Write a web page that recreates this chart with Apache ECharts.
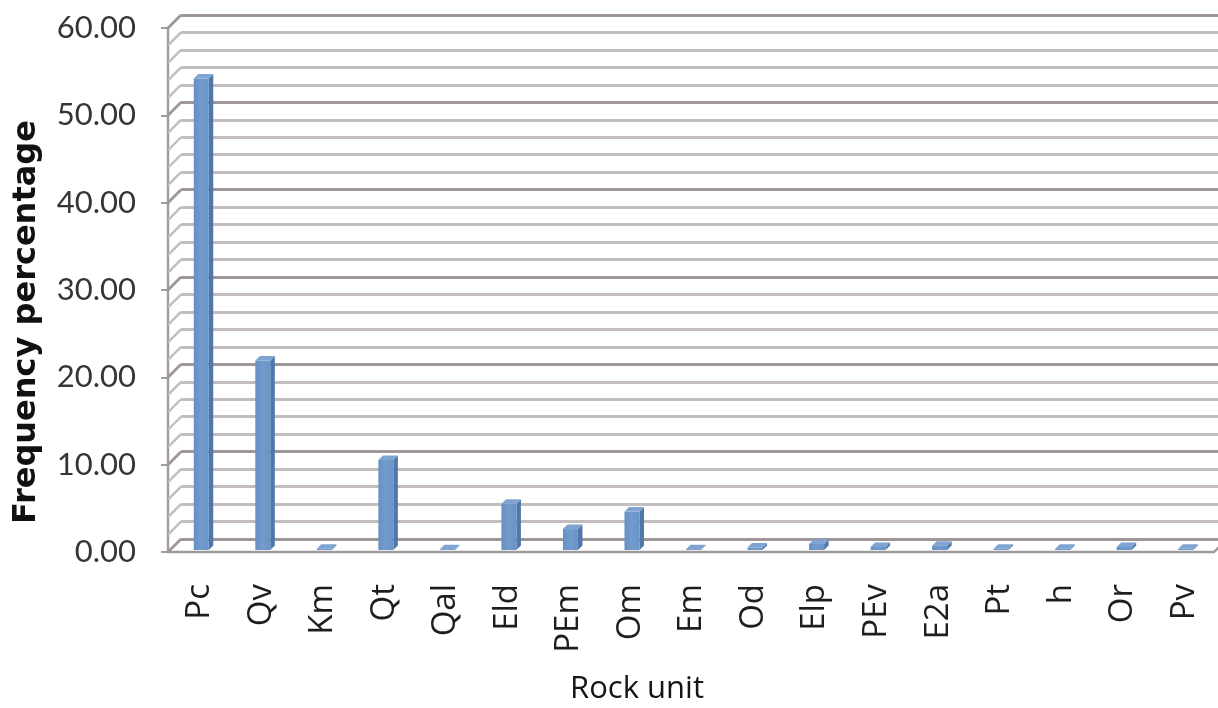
<!DOCTYPE html>
<html>
<head>
<meta charset="utf-8">
<script src="https://cdn.jsdelivr.net/npm/echarts@6/dist/echarts.min.js"></script>
<style>
  html, body { margin: 0; padding: 0; background: #ffffff; }
  #chart { width: 1218px; height: 708px; }
</style>
</head>
<body>
<div id="chart"></div>
<script>
// Rock units and their frequency (%)
const categories = ['Pc', 'Qv', 'Km', 'Qt', 'Qal', 'Eld', 'PEm', 'Om', 'Em', 'Od', 'Elp', 'PEv', 'E2a', 'Pt', 'h', 'Or', 'Pv'];
const frequency = [54.0, 21.7, 0.15, 10.3, 0.1, 5.3, 2.4, 4.4, 0.1, 0.3, 0.7, 0.35, 0.5, 0.15, 0.15, 0.35, 0.15];

// Value axis ticks and their printed labels
const yTicks = [0, 10, 20, 30, 40, 50, 60];
const yTickLabels = ['0.00', '10.00', '20.00', '30.00', '40.00', '50.00', '60.00'];

// Gridline levels on the back and side walls
const wallLines = [0, 2, 4, 6, 8, 10, 12, 14, 16, 18, 20, 22, 24, 26, 28, 30,
                   32, 34, 36, 38, 40, 42, 44, 46, 48, 50, 52, 54, 56, 58, 60];

const DEPTH = 13;             // oblique depth of the box (px)
const MAJOR = '#9f9797';
const MINOR = '#c4bdbd';
const AXIS = '#a09a9a';

const chart = echarts.init(document.getElementById('chart'), null, { renderer: 'canvas' });

// Side wall: a slanted segment joining the front axis to each back-wall gridline
function renderWallLink(params, api) {
  const cs = params.coordSys;
  const v = api.value(1);
  const y = api.coord([0, v])[1];
  const major = v % 10 === 0;
  return {
    type: 'line',
    shape: { x1: cs.x, y1: y, x2: cs.x + DEPTH, y2: y - DEPTH },
    style: { stroke: major ? MAJOR : MINOR, lineWidth: major ? 2.8 : 2.4 }
  };
}

// Right end of the floor
function renderFloorEdge(params, api) {
  const cs = params.coordSys;
  const y = api.coord([0, 0])[1];
  const x = cs.x + cs.width;
  return {
    type: 'line',
    shape: { x1: x, y1: y, x2: x + DEPTH, y2: y - DEPTH },
    style: { stroke: AXIS, lineWidth: 2.4 }
  };
}

// Category names, written upward below the floor
function renderCategoryLabel(params, api) {
  const i = api.value(0);
  const p = api.coord([i, 0]);
  return {
    type: 'text',
    x: p[0] + 1,
    y: p[1] + 32,
    rotation: Math.PI / 2,
    style: {
      text: categories[i],
      font: '33px "Open Sans", sans-serif',
      fill: '#1e1e1e',
      align: 'right',
      verticalAlign: 'middle'
    }
  };
}

// 3D column: front face, right side face and top face
function renderColumn(params, api) {
  const i = api.value(0);
  const v = api.value(1);
  const base = api.coord([i, 0]);
  const top = api.coord([i, v]);
  const w = 15, d = 4.5, lift = 2, shift = 2.5;
  const x0 = base[0] - w / 2 + shift;
  const x1 = x0 + w;
  const yb = base[1] - lift;
  const yt = top[1] - lift;
  return {
    type: 'group',
    children: [
      {
        type: 'polygon',
        shape: { points: [[x1, yb], [x1, yt], [x1 + d, yt - d], [x1 + d, yb - d]] },
        style: { fill: '#4f77a9' }
      },
      {
        type: 'rect',
        shape: { x: x0, y: yt, width: w, height: Math.max(yb - yt, 0.5) },
        style: {
          fill: new echarts.graphic.LinearGradient(0, 0, 1, 0, [
            { offset: 0, color: '#6690c4' },
            { offset: 0.5, color: '#739bcc' },
            { offset: 1, color: '#6a93c6' }
          ])
        }
      },
      {
        type: 'polygon',
        shape: { points: [[x0, yt], [x1, yt], [x1 + d, yt - d], [x0 + d, yt - d]] },
        style: { fill: '#7fa4d2' }
      }
    ]
  };
}

const option = {
  backgroundColor: '#ffffff',
  animation: false,
  grid: [
    // front plane: axes, labels and columns
    { left: 168, top: 28, width: 1046, height: 524 },
    // back wall
    { left: 168 + DEPTH, top: 28 - DEPTH, right: 0, height: 524 }
  ],
  xAxis: [
    {
      type: 'category',
      gridIndex: 0,
      data: categories,
      axisLine: { show: true, lineStyle: { color: AXIS, width: 2.4 } },
      axisTick: { show: false },
      axisLabel: { show: false },
      splitLine: { show: false }
    },
    {
      type: 'value',
      gridIndex: 1,
      show: false,
      min: 0,
      max: 1
    }
  ],
  yAxis: [
    {
      type: 'value',
      gridIndex: 0,
      min: 0,
      max: 60,
      interval: 10,
      axisLine: { show: true, lineStyle: { color: AXIS, width: 2.4 } },
      axisTick: { show: true, inside: false, length: 7, lineStyle: { color: AXIS, width: 2 } },
      axisLabel: {
        margin: 32,
        fontFamily: 'Lato, sans-serif',
        fontSize: 31,
        color: '#363636',
        formatter: function (value) {
          const k = yTicks.indexOf(value);
          return k >= 0 ? yTickLabels[k] : '';
        }
      },
      splitLine: { show: false }
    },
    {
      type: 'value',
      gridIndex: 1,
      min: 0,
      max: 60,
      interval: 2,
      axisLine: { show: false },
      axisTick: { show: false },
      axisLabel: { show: false },
      splitLine: {
        show: true,
        lineStyle: {
          color: [MAJOR, MINOR, MINOR, MINOR, MINOR],
          width: 2.8
        }
      }
    }
  ],
  series: [
    {
      type: 'custom',
      name: 'wall',
      xAxisIndex: 0,
      yAxisIndex: 0,
      silent: true,
      clip: false,
      renderItem: renderWallLink,
      data: wallLines.map(function (v) { return [0, v]; }),
      z: 1
    },
    {
      type: 'custom',
      name: 'floor',
      xAxisIndex: 0,
      yAxisIndex: 0,
      silent: true,
      clip: false,
      renderItem: renderFloorEdge,
      data: [[0, 0]],
      z: 1
    },
    {
      type: 'custom',
      name: 'labels',
      xAxisIndex: 0,
      yAxisIndex: 0,
      silent: true,
      clip: false,
      renderItem: renderCategoryLabel,
      data: categories.map(function (c, i) { return [i, 0]; }),
      z: 3
    },
    {
      type: 'custom',
      name: 'Frequency percentage',
      xAxisIndex: 0,
      yAxisIndex: 0,
      clip: false,
      renderItem: renderColumn,
      data: frequency.map(function (v, i) { return [i, v]; }),
      z: 5
    }
  ],
  graphic: [
    {
      type: 'text',
      x: 27,
      y: 322,
      rotation: Math.PI / 2,
      style: {
        text: 'Frequency percentage',
        font: 'bold 32px "DejaVu Sans", sans-serif',
        fill: '#111111',
        align: 'center',
        verticalAlign: 'middle'
      }
    },
    {
      type: 'text',
      x: 637,
      y: 689,
      style: {
        text: 'Rock unit',
        font: '31px "Open Sans", sans-serif',
        fill: '#151515',
        align: 'center',
        verticalAlign: 'middle'
      }
    }
  ]
};

chart.setOption(option);
</script>
</body>
</html>
